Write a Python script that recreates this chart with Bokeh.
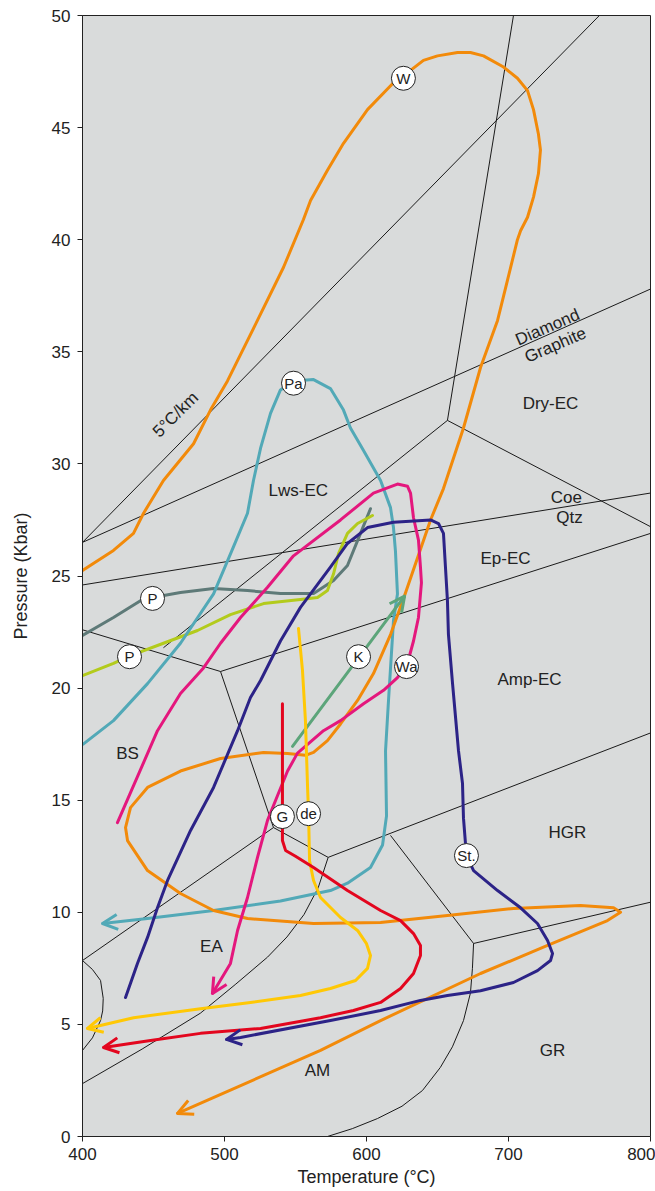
from bokeh.plotting import figure
from bokeh.models import Range1d, FixedTicker, Arrow, OpenHead, ColumnDataSource
from bokeh.core.properties import value
from bokeh.embed import file_html
from bokeh.resources import INLINE

FONT = "Liberation Sans"

# ---------------- facies boundaries (T in °C, P in kbar) ----------------
geotherm_T = [400, 764]
geotherm_P = [26.5, 50]
dia_gr_T = [400, 800]
dia_gr_P = [26.5, 37.8]
dry_up_T = [657, 703.5]
dry_up_P = [31.94, 50]
lws_low_T = [657, 457]
lws_low_P = [31.94, 21.8]
dry_low_T = [657, 800]
dry_low_P = [31.94, 27.2]
coe_qtz_T = [400, 800]
coe_qtz_P = [24.6, 28.7]
bs_top_T = [400, 497.2]
bs_top_P = [22.6, 20.74]
ep_amp_T = [497.2, 800]
ep_amp_P = [20.74, 26.9]
bs_right_T = [497.2, 534.5]
bs_right_P = [20.74, 13.78]
bs_ea_T = [534.5, 400]
bs_ea_P = [13.78, 7.85]
ea_top_T = [534.5, 573]
ea_top_P = [13.78, 12.45]
hgr_top_T = [573, 800]
hgr_top_P = [12.45, 18.0]
hgr_left_T = [616.9, 675.4]
hgr_left_P = [13.43, 8.61]
hgr_low_T = [675.4, 800]
hgr_low_P = [8.61, 10.45]
gr_left_T = [675.4, 674.6, 673.2, 668.3, 660.5, 652, 639.4, 625, 607.7, 590, 572.5]
gr_left_P = [8.61, 7.5, 6.4, 5.17, 4.0, 3.08, 2.05, 1.35, 0.8, 0.35, 0]
ea_am_T = [573, 566, 556, 544, 530.3, 508, 483, 442, 400]
ea_am_P = [12.45, 11.1, 9.9, 8.9, 8.0, 6.8, 5.5, 3.9, 2.36]
bulge_T = [400, 407, 412.7, 414.6, 414.2, 412.7, 407, 400]
bulge_P = [7.85, 7.45, 6.96, 6.16, 5.6, 5.17, 4.4, 3.84]

boundaries = [
    (geotherm_T, geotherm_P), (dia_gr_T, dia_gr_P), (dry_up_T, dry_up_P),
    (lws_low_T, lws_low_P), (dry_low_T, dry_low_P), (coe_qtz_T, coe_qtz_P),
    (bs_top_T, bs_top_P), (ep_amp_T, ep_amp_P), (bs_right_T, bs_right_P),
    (bs_ea_T, bs_ea_P), (ea_top_T, ea_top_P), (hgr_top_T, hgr_top_P),
    (hgr_left_T, hgr_left_P), (hgr_low_T, hgr_low_P), (gr_left_T, gr_left_P),
    (ea_am_T, ea_am_P), (bulge_T, bulge_P),
]

# ---------------- P–T paths ----------------
W_T = [400, 421.8, 435.9, 443, 457, 478.2, 490.1, 502.1, 523.2, 541.5, 555.6,
       560.6, 572.5, 583.8, 600.7, 619, 626, 631, 640.1, 650, 664.1, 673.2,
       682.4, 696.5, 706.3, 713.4, 717.6, 721.1, 722.5, 721.1, 717.6, 713.4,
       708.5, 706.3, 699.3, 692.3, 680.3, 668.3, 654.2, 645.1, 626.1, 617,
       604.9, 593.7, 581.7, 572.5, 562.7, 557, 544.4, 527.5, 497.2, 469, 445.8,
       433.8, 430.3, 431.7, 445.8, 469, 492.3, 516.2, 562.7, 609.9, 657, 703.5,
       750.7, 774, 778.9, 769.7, 727.5, 680.3, 609.9, 567.6, 466.9]
W_P = [25.25, 26.14, 26.9, 27.8, 29.26, 30.9, 32.4, 33.7, 36.4, 38.76, 40.9,
       41.75, 43.1, 44.3, 45.8, 47.0, 47.3, 47.55, 48.0, 48.2, 48.35, 48.35,
       48.2, 47.7, 47.2, 46.65, 45.8, 44.7, 44.0, 42.95, 41.9, 41.0, 40.4,
       40.0, 38.2, 36.4, 34.3, 31.6, 28.9, 27.5, 24.0, 22.4, 20.65, 19.45,
       18.4, 17.66, 17.13, 17.0, 17.08, 17.13, 16.86, 16.3, 15.57, 14.67,
       13.78, 13.2, 11.86, 10.84, 10.08, 9.72, 9.5, 9.55, 9.86, 10.17, 10.3,
       10.2, 10.0, 9.63, 8.52, 7.27, 5.17, 3.84, 1.03]

Pa_T = [400.5, 421.8, 445.8, 469, 492.3, 506.3, 516.2, 520.4, 525.4, 532.4,
        539.4, 548.6, 562.7, 574.6, 583.8, 588.7, 597.9, 609.9, 616.9, 619,
        620.4, 621.8, 619, 615.5, 613.4, 614.1, 611.3, 602.8, 586.6, 574.6,
        539.4, 492.3, 445.8, 414.1]
Pa_P = [17.5, 18.55, 20.2, 22.0, 24.2, 26.3, 27.8, 29.26, 30.7, 32.25, 33.3,
        33.7, 33.76, 33.36, 32.4, 31.6, 30.6, 29.26, 28.05, 27.16, 26.1, 24.2,
        23.0, 19.45, 17.2, 14.3, 13.0, 12.0, 11.3, 10.97, 10.5, 10.08, 9.72, 9.5]

Wa_T = [424.6, 452.8, 469, 485.2, 497.2, 511.3, 530.3, 548.6, 581.7, 604.9,
        621.8, 628.9, 631, 633.1, 636.6, 638, 638.7, 636.6, 633.1, 628.2,
        621.8, 612, 597.9, 581.7, 569.7, 551.4, 544.4, 537.3, 530.3, 523.2,
        516.2, 509.2, 504.2, 491.5]
Wa_P = [14.0, 18.1, 19.76, 20.9, 22.0, 23.15, 24.5, 25.9, 27.5, 28.7, 29.1,
        29.0, 28.7, 27.6, 26.6, 25.4, 24.7, 23.15, 22.1, 20.96, 20.47, 19.9,
        19.3, 18.55, 18.1, 17.1, 16.3, 15.2, 14.1, 12.44, 10.66, 9.19, 7.72, 6.38]

St_T = [430.3, 438.7, 445.8, 452.8, 459.9, 476.1, 492.3, 509.2, 518.3, 525.4,
        539.4, 553.5, 574.6, 586.6, 600.7, 619, 645.1, 650.7, 654.2, 655.6,
        657, 657.7, 660.6, 662.7, 664.8, 667.6, 668.3, 669.7, 670.4, 675.4,
        692.3, 708.5, 720.4, 727.5, 731, 729.6, 720.4, 703.5, 680.3, 657, 638,
        609.9, 574.6, 511.3, 501.4]
St_P = [6.2, 7.72, 8.88, 10.2, 11.42, 13.65, 15.57, 18.1, 19.58, 20.34, 22.1,
        23.6, 25.4, 26.45, 27.16, 27.4, 27.5, 27.34, 26.9, 25.4, 23.9, 22.4,
        20.2, 18.7, 17.2, 15.75, 14.2, 13.07, 12.53, 11.86, 10.97, 10.2, 9.5,
        8.74, 8.16, 7.85, 7.4, 6.87, 6.5, 6.29, 6.07, 5.62, 5.17, 4.42, 4.33]

G_T = [540.8, 540.8, 540.8, 543, 550, 562.7, 586.6, 609.9, 624, 633.1, 638,
       638, 633.1, 624, 609.9, 590.8, 567.6, 525.4, 483.1, 447.9, 414.8]
G_P = [19.3, 14.3, 13.2, 12.76, 12.5, 12.0, 10.97, 10.08, 9.63, 9.05, 8.52,
       8.07, 7.27, 6.6, 5.98, 5.62, 5.3, 4.82, 4.6, 4.28, 3.97]

de_T = [552.1, 554.9, 557, 558.5, 559.2, 559.9, 562.7, 567.6, 581.7, 593.7,
        600, 602.8, 600.7, 592.3, 574.6, 553.5, 518.3, 483.1, 436, 403.5]
de_P = [22.66, 20.8, 18.55, 15.57, 14.4, 12.3, 11.42, 10.66, 9.77, 9.19, 8.6,
        8.07, 7.5, 6.96, 6.6, 6.29, 5.98, 5.7, 5.3, 4.82]

K_T = [547.9, 626.8]
K_P = [17.4, 24.1]

Pg_T = [400, 421.8, 440.8, 449.3, 469, 492.3, 516.2, 539.4, 562.7, 576.8,
        586.6, 593.7, 602.8]
Pg_P = [22.35, 23.15, 23.9, 24.04, 24.26, 24.44, 24.35, 24.22, 24.22, 24.8,
        25.47, 26.58, 28.0]

Pl_T = [400, 421.8, 433.8, 457, 481, 504.2, 527.5, 553.5, 565.5, 572.5,
        576.8, 580.3, 586.6, 593.7, 604.2]
Pl_P = [20.56, 21.1, 21.45, 22.0, 22.57, 23.28, 23.77, 23.95, 24.04, 24.35,
        25.1, 26.0, 26.9, 27.34, 27.7]

paths = [
    # (T, P, colour, arrow at end)
    (Pg_T, Pg_P, "#5e7a78", False),
    (Pl_T, Pl_P, "#b3cb1c", False),
    (Pa_T, Pa_P, "#52a9b7", True),
    (W_T, W_P, "#f28a0a", True),
    (Wa_T, Wa_P, "#e4177d", True),
    (St_T, St_P, "#2c2387", True),
    (K_T, K_P, "#5ca57a", True),
    (de_T, de_P, "#ffc805", True),
    (G_T, G_P, "#e3061e", True),
]

# ---------------- labels ----------------
marker_text = ["W", "Pa", "P", "P", "K", "Wa", "G", "de", "St."]
marker_T = [626, 548.6, 449.3, 433.1, 594.4, 628.2, 540.8, 559.2, 670.4]
marker_P = [47.2, 33.6, 24.0, 21.4, 21.4, 20.96, 14.27, 14.4, 12.53]

field_names = ["Dry-EC", "Lws-EC", "Coe", "Qtz", "Ep-EC", "Amp-EC", "HGR",
               "GR", "AM", "EA", "BS"]
field_T = [729.6, 552, 740.8, 743, 697.9, 714.8, 741.5, 731, 565.5, 490.8, 431.7]
field_P = [32.7, 28.8, 28.5, 27.6, 25.8, 20.4, 13.56, 3.84, 2.94, 8.47, 17.1]

tilted_names = ["5°C/km", "Diamond", "Graphite"]
tilted_T = [465.5, 727.5, 733]
tilted_P = [32.2, 36.1, 35.3]
tilted_angle = [0.78, 0.41, 0.41]

# ---------------- figure ----------------
p = figure(width=655, height=1191, output_backend="svg", toolbar_location=None,
           x_range=Range1d(400, 800), y_range=Range1d(0, 50),
           min_border_left=82, min_border_right=5, min_border_top=15,
           min_border_bottom=55)
p.background_fill_color = "#d9dbdb"
p.border_fill_color = "white"
p.outline_line_color = "#222222"
p.outline_line_width = 1
p.grid.visible = False

p.xaxis.ticker = FixedTicker(ticks=[400, 500, 600, 700, 800])
p.yaxis.ticker = FixedTicker(ticks=list(range(0, 51, 5)))
for ax in (p.xaxis, p.yaxis):
    ax.major_tick_out = 5
    ax.major_tick_in = 0
    ax.minor_tick_out = 0
    ax.minor_tick_in = 0
    ax.axis_line_color = "#222222"
    ax.major_tick_line_color = "#222222"
    ax.major_label_text_font = FONT
    ax.major_label_text_font_size = "17px"
    ax.major_label_text_color = "#222222"
    ax.axis_label_text_font = FONT
    ax.axis_label_text_font_size = "18px"
    ax.axis_label_text_font_style = "normal"
    ax.axis_label_text_color = "#222222"
    ax.major_label_standoff = 7
p.xaxis.major_label_standoff = 6
p.xaxis.axis_label = "Temperature (°C)"
p.yaxis.axis_label = "Pressure (Kbar)"
p.xaxis.axis_label_standoff = 4
p.yaxis.axis_label_standoff = 18

for bt, bp in boundaries:
    p.line(bt, bp, line_color="#1a1a1a", line_width=1)

for t, pr, c, arrow in paths:
    p.line(t, pr, line_color=c, line_width=3, line_join="round", line_cap="round")
    if arrow:
        p.add_layout(Arrow(end=OpenHead(size=15, line_color=c, line_width=3),
                           x_start=t[-2], y_start=pr[-2], x_end=t[-1], y_end=pr[-1],
                           line_alpha=0))

msrc = ColumnDataSource(dict(x=marker_T, y=marker_P, text=marker_text))
p.scatter("x", "y", source=msrc, size=24, fill_color="white",
          line_color="#222222", line_width=1)
p.text("x", "y", text="text", source=msrc, text_align="center",
       text_baseline="middle", text_font=value(FONT), text_font_size="15px",
       text_color="#222222")

fsrc = ColumnDataSource(dict(x=field_T, y=field_P, text=field_names))
p.text("x", "y", text="text", source=fsrc, text_align="center",
       text_baseline="middle", text_font=value(FONT), text_font_size="17px",
       text_color="#222222")

tsrc = ColumnDataSource(dict(x=tilted_T, y=tilted_P, text=tilted_names,
                             angle=tilted_angle))
p.text("x", "y", text="text", angle="angle", source=tsrc, text_align="center",
       text_baseline="middle", text_font=value(FONT), text_font_size="17px",
       text_color="#222222")

open("out.html", "w").write(file_html(p, INLINE))
